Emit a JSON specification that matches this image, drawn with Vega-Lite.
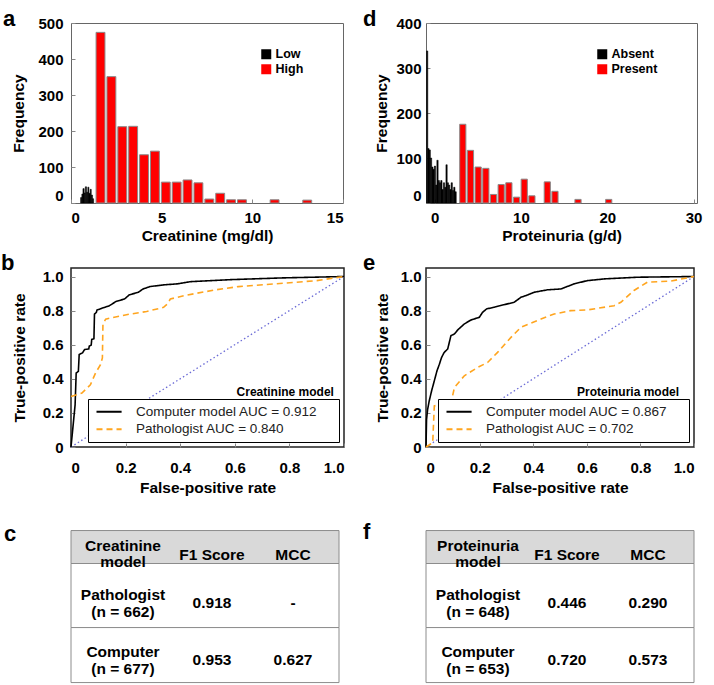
{
  "$schema": "https://vega.github.io/schema/vega-lite/v6.json",
  "background": "white",
  "padding": {"left": 0, "top": 7, "right": 0, "bottom": 0},
  "config": {
    "font": "Liberation Sans",
    "axis": {"labelFont": "Liberation Sans", "labelFontWeight": "bold", "labelFontSize": 15, "labelColor": "#000", "titleFont": "Liberation Sans", "titleFontWeight": "bold", "titleFontSize": 15.5, "titleColor": "#000", "domain": false, "grid": false, "tickSize": -4, "tickColor": "#888", "labelPadding": 11, "labelOverlap": false},
    "title": {"font": "Liberation Sans", "fontWeight": "bold", "fontSize": 22, "anchor": "start", "frame": "group", "baseline": "alphabetic", "color": "#000"},
    "text": {"font": "Liberation Sans", "fontWeight": "bold", "fontSize": 15.5, "color": "#000"}
  },
  "columns": 2,
  "bounds": "flush",
  "spacing": {"row": 65, "column": 82},
  "resolve": {"scale": {"x": "independent", "y": "independent", "color": "independent", "strokeDash": "independent"}, "legend": {"color": "independent", "strokeDash": "independent"}},
  "concat": [
    {
      "width": 272, "height": 180,
      "view": {"stroke": "#666"},
      "title": {"text": "a", "dx": -68, "offset": -14.5},
      "data": {"values": [
        {"lo": 0.5, "hi": 0.57, "n": 15, "cls": "Low"},
        {"lo": 0.57, "hi": 0.63, "n": 25, "cls": "Low"},
        {"lo": 0.63, "hi": 0.7, "n": 40, "cls": "Low"},
        {"lo": 0.7, "hi": 0.76, "n": 28, "cls": "Low"},
        {"lo": 0.76, "hi": 0.83, "n": 45, "cls": "Low"},
        {"lo": 0.83, "hi": 0.9, "n": 30, "cls": "Low"},
        {"lo": 0.9, "hi": 0.96, "n": 44, "cls": "Low"},
        {"lo": 0.96, "hi": 1.03, "n": 27, "cls": "Low"},
        {"lo": 1.03, "hi": 1.09, "n": 38, "cls": "Low"},
        {"lo": 1.09, "hi": 1.16, "n": 22, "cls": "Low"},
        {"lo": 1.16, "hi": 1.22, "n": 12, "cls": "Low"},
        {"lo": 1.3, "hi": 1.9, "n": 474, "cls": "High"},
        {"lo": 1.9, "hi": 2.5, "n": 351, "cls": "High"},
        {"lo": 2.5, "hi": 3.1, "n": 212, "cls": "High"},
        {"lo": 3.1, "hi": 3.7, "n": 213, "cls": "High"},
        {"lo": 3.7, "hi": 4.3, "n": 134, "cls": "High"},
        {"lo": 4.3, "hi": 4.9, "n": 144, "cls": "High"},
        {"lo": 4.9, "hi": 5.5, "n": 58, "cls": "High"},
        {"lo": 5.5, "hi": 6.1, "n": 58, "cls": "High"},
        {"lo": 6.1, "hi": 6.7, "n": 64, "cls": "High"},
        {"lo": 6.7, "hi": 7.3, "n": 56, "cls": "High"},
        {"lo": 7.3, "hi": 7.9, "n": 11, "cls": "High"},
        {"lo": 7.9, "hi": 8.5, "n": 27, "cls": "High"},
        {"lo": 8.5, "hi": 9.1, "n": 9, "cls": "High"},
        {"lo": 9.1, "hi": 9.7, "n": 9, "cls": "High"},
        {"lo": 10.9, "hi": 11.5, "n": 9, "cls": "High"},
        {"lo": 12.7, "hi": 13.3, "n": 8, "cls": "High"}
      ]},
      "encoding": {
        "x": {"field": "lo", "type": "quantitative", "bin": "binned", "scale": {"domain": [0, 15], "nice": false, "zero": false},
              "axis": {"values": [0, 5, 10, 15], "labelFlush": true, "labelOverlap": false, "title": "Creatinine (mg/dl)", "labelPadding": 11, "titlePadding": 3.5}},
        "x2": {"field": "hi"},
        "y": {"field": "n", "type": "quantitative", "scale": {"domain": [0, 500], "nice": false},
              "axis": {"values": [0, 100, 200, 300, 400, 500], "labelOverlap": false, "title": "Frequency", "labelPadding": 12, "titlePadding": 11,
                       "labelBaseline": {"condition": {"test": "datum.value === 0", "value": "bottom"}, "value": "middle"}}},
        "color": {"field": "cls", "type": "nominal", "scale": {"domain": ["Low", "High"], "range": ["#000000", "#ff0000"]},
                  "legend": {"title": null, "orient": "top-right", "offset": 25, "padding": 0, "symbolType": "square", "symbolSize": 100, "symbolStrokeWidth": 0, "labelFont": "Liberation Sans", "labelFontWeight": "bold", "labelFontSize": 12.5, "labelColor": "#000", "rowPadding": 2, "labelOffset": 3, "labelExpr": "datum.label + '\u00a0\u00a0\u00a0\u00a0\u200b'"}}
      },
      "layer": [
        {"transform": [{"filter": "datum.cls === 'Low'"}], "mark": {"type": "bar", "binSpacing": 0, "stroke": "#000", "strokeWidth": 0.5}},
        {"transform": [{"filter": "datum.cls === 'High'"}], "mark": {"type": "bar", "binSpacing": 2, "stroke": "#8a8a8a", "strokeWidth": 1}}
      ]
    },
    {
      "width": 271, "height": 180,
      "view": {"stroke": "#666"},
      "title": {"text": "d", "dx": -63, "offset": -14.5},
      "data": {"values": [
        {"lo": -1.0, "hi": -0.85, "n": 338, "cls": "Absent"},
        {"lo": -0.85, "hi": -0.7, "n": 121, "cls": "Absent"},
        {"lo": -0.7, "hi": -0.55, "n": 118, "cls": "Absent"},
        {"lo": -0.55, "hi": -0.4, "n": 100, "cls": "Absent"},
        {"lo": -0.4, "hi": -0.25, "n": 80, "cls": "Absent"},
        {"lo": -0.25, "hi": -0.1, "n": 75, "cls": "Absent"},
        {"lo": -0.1, "hi": 0.05, "n": 82, "cls": "Absent"},
        {"lo": 0.05, "hi": 0.2, "n": 40, "cls": "Absent"},
        {"lo": 0.2, "hi": 0.35, "n": 95, "cls": "Absent"},
        {"lo": 0.35, "hi": 0.5, "n": 50, "cls": "Absent"},
        {"lo": 0.5, "hi": 0.65, "n": 45, "cls": "Absent"},
        {"lo": 0.65, "hi": 0.8, "n": 50, "cls": "Absent"},
        {"lo": 0.8, "hi": 0.95, "n": 30, "cls": "Absent"},
        {"lo": 0.95, "hi": 1.1, "n": 45, "cls": "Absent"},
        {"lo": 1.1, "hi": 1.25, "n": 35, "cls": "Absent"},
        {"lo": 1.25, "hi": 1.4, "n": 85, "cls": "Absent"},
        {"lo": 1.4, "hi": 1.55, "n": 45, "cls": "Absent"},
        {"lo": 1.55, "hi": 1.7, "n": 40, "cls": "Absent"},
        {"lo": 1.7, "hi": 1.85, "n": 30, "cls": "Absent"},
        {"lo": 1.85, "hi": 2.0, "n": 45, "cls": "Absent"},
        {"lo": 2.0, "hi": 2.15, "n": 28, "cls": "Absent"},
        {"lo": 2.15, "hi": 2.3, "n": 35, "cls": "Absent"},
        {"lo": 2.3, "hi": 2.45, "n": 25, "cls": "Absent"},
        {"lo": 2.76, "hi": 3.65, "n": 175, "cls": "Present"},
        {"lo": 3.65, "hi": 4.54, "n": 117, "cls": "Present"},
        {"lo": 4.54, "hi": 5.43, "n": 80, "cls": "Present"},
        {"lo": 5.43, "hi": 6.32, "n": 77, "cls": "Present"},
        {"lo": 6.32, "hi": 7.21, "n": 19, "cls": "Present"},
        {"lo": 7.21, "hi": 8.1, "n": 41, "cls": "Present"},
        {"lo": 8.1, "hi": 8.99, "n": 45, "cls": "Present"},
        {"lo": 8.99, "hi": 9.88, "n": 13, "cls": "Present"},
        {"lo": 9.88, "hi": 10.77, "n": 53, "cls": "Present"},
        {"lo": 10.77, "hi": 11.66, "n": 16, "cls": "Present"},
        {"lo": 12.55, "hi": 13.44, "n": 47, "cls": "Present"},
        {"lo": 13.44, "hi": 14.33, "n": 26, "cls": "Present"},
        {"lo": 16.11, "hi": 17.0, "n": 8, "cls": "Present"},
        {"lo": 19.67, "hi": 20.56, "n": 8, "cls": "Present"}
      ]},
      "encoding": {
        "x": {"field": "lo", "type": "quantitative", "bin": "binned", "scale": {"domain": [-1, 30.4], "nice": false, "zero": false},
              "axis": {"values": [0, 10, 20, 30], "labelOverlap": false, "title": "Proteinuria (g/d)", "labelPadding": 11, "titlePadding": 3.5}},
        "x2": {"field": "hi"},
        "y": {"field": "n", "type": "quantitative", "scale": {"domain": [0, 400], "nice": false},
              "axis": {"values": [0, 100, 200, 300, 400], "labelOverlap": false, "title": "Frequency", "labelPadding": 9, "titlePadding": 6,
                       "labelBaseline": {"condition": {"test": "datum.value === 0", "value": "bottom"}, "value": "middle"}}},
        "color": {"field": "cls", "type": "nominal", "scale": {"domain": ["Absent", "Present"], "range": ["#000000", "#ff0000"]},
                  "legend": {"title": null, "orient": "top-right", "offset": 25, "padding": 0, "symbolType": "square", "symbolSize": 100, "symbolStrokeWidth": 0, "labelFont": "Liberation Sans", "labelFontWeight": "bold", "labelFontSize": 12.5, "labelColor": "#000", "rowPadding": 2, "labelOffset": 3, "labelExpr": "datum.label + '\u00a0\u00a0\u00a0\u00a0\u200b'"}}
      },
      "layer": [
        {"transform": [{"filter": "datum.cls === 'Absent'"}], "mark": {"type": "bar", "binSpacing": 0, "stroke": "#000", "strokeWidth": 0.5}},
        {"transform": [{"filter": "datum.cls === 'Present'"}], "mark": {"type": "bar", "binSpacing": 1.5, "stroke": "#8a8a8a", "strokeWidth": 1}}
      ]
    },
    {
      "width": 273, "height": 179,
      "view": {"stroke": "#222", "strokeWidth": 1.5},
      "title": {"text": "b", "dx": -70, "offset": -7},
      "encoding": {
        "x": {"field": "fpr", "type": "quantitative", "scale": {"domain": [0, 1], "nice": false},
              "axis": {"values": [0, 0.2, 0.4, 0.6, 0.8, 1], "labelOverlap": false, "labelExpr": "datum.value === 0 ? '0' : format(datum.value, '.1f')", "title": "False-positive rate", "labelPadding": 17, "titlePadding": 5.5}},
        "y": {"field": "tpr", "type": "quantitative", "scale": {"domain": [0, 1.05], "nice": false},
              "axis": {"values": [0, 0.2, 0.4, 0.6, 0.8, 1], "labelOverlap": false, "labelExpr": "datum.value === 0 ? '0' : format(datum.value, '.1f')", "title": "True-positive rate", "labelPadding": 12, "titlePadding": 14.5}}
      },
      "layer": [
        {
          "data": {"values": [{"fpr": 0, "tpr": 0}, {"fpr": 1, "tpr": 1}]},
          "mark": {"type": "line", "color": "#6b6bd6", "strokeDash": [1.5, 2.5], "strokeWidth": 1.3}
        },
        {
          "data": {"values": [
            {"fpr": 0, "tpr": 0, "s": "Computer model AUC = 0.912"},
            {"fpr": 0.015, "tpr": 0.246, "s": "Computer model AUC = 0.912"},
            {"fpr": 0.019, "tpr": 0.434, "s": "Computer model AUC = 0.912"},
            {"fpr": 0.027, "tpr": 0.444, "s": "Computer model AUC = 0.912"},
            {"fpr": 0.03, "tpr": 0.543, "s": "Computer model AUC = 0.912"},
            {"fpr": 0.042, "tpr": 0.552, "s": "Computer model AUC = 0.912"},
            {"fpr": 0.05, "tpr": 0.572, "s": "Computer model AUC = 0.912"},
            {"fpr": 0.065, "tpr": 0.575, "s": "Computer model AUC = 0.912"},
            {"fpr": 0.067, "tpr": 0.592, "s": "Computer model AUC = 0.912"},
            {"fpr": 0.074, "tpr": 0.598, "s": "Computer model AUC = 0.912"},
            {"fpr": 0.076, "tpr": 0.631, "s": "Computer model AUC = 0.912"},
            {"fpr": 0.084, "tpr": 0.635, "s": "Computer model AUC = 0.912"},
            {"fpr": 0.086, "tpr": 0.779, "s": "Computer model AUC = 0.912"},
            {"fpr": 0.093, "tpr": 0.79, "s": "Computer model AUC = 0.912"},
            {"fpr": 0.095, "tpr": 0.803, "s": "Computer model AUC = 0.912"},
            {"fpr": 0.115, "tpr": 0.815, "s": "Computer model AUC = 0.912"},
            {"fpr": 0.14, "tpr": 0.828, "s": "Computer model AUC = 0.912"},
            {"fpr": 0.165, "tpr": 0.854, "s": "Computer model AUC = 0.912"},
            {"fpr": 0.196, "tpr": 0.868, "s": "Computer model AUC = 0.912"},
            {"fpr": 0.214, "tpr": 0.893, "s": "Computer model AUC = 0.912"},
            {"fpr": 0.246, "tpr": 0.907, "s": "Computer model AUC = 0.912"},
            {"fpr": 0.264, "tpr": 0.927, "s": "Computer model AUC = 0.912"},
            {"fpr": 0.289, "tpr": 0.941, "s": "Computer model AUC = 0.912"},
            {"fpr": 0.339, "tpr": 0.951, "s": "Computer model AUC = 0.912"},
            {"fpr": 0.389, "tpr": 0.957, "s": "Computer model AUC = 0.912"},
            {"fpr": 0.439, "tpr": 0.97, "s": "Computer model AUC = 0.912"},
            {"fpr": 0.589, "tpr": 0.982, "s": "Computer model AUC = 0.912"},
            {"fpr": 0.776, "tpr": 0.992, "s": "Computer model AUC = 0.912"},
            {"fpr": 1, "tpr": 1, "s": "Computer model AUC = 0.912"},
            {"fpr": 0, "tpr": 0.296, "s": "Pathologist AUC = 0.840"},
            {"fpr": 0.04, "tpr": 0.316, "s": "Pathologist AUC = 0.840"},
            {"fpr": 0.071, "tpr": 0.365, "s": "Pathologist AUC = 0.840"},
            {"fpr": 0.09, "tpr": 0.434, "s": "Pathologist AUC = 0.840"},
            {"fpr": 0.108, "tpr": 0.483, "s": "Pathologist AUC = 0.840"},
            {"fpr": 0.115, "tpr": 0.523, "s": "Pathologist AUC = 0.840"},
            {"fpr": 0.117, "tpr": 0.72, "s": "Pathologist AUC = 0.840"},
            {"fpr": 0.127, "tpr": 0.75, "s": "Pathologist AUC = 0.840"},
            {"fpr": 0.152, "tpr": 0.759, "s": "Pathologist AUC = 0.840"},
            {"fpr": 0.214, "tpr": 0.779, "s": "Pathologist AUC = 0.840"},
            {"fpr": 0.277, "tpr": 0.795, "s": "Pathologist AUC = 0.840"},
            {"fpr": 0.339, "tpr": 0.819, "s": "Pathologist AUC = 0.840"},
            {"fpr": 0.352, "tpr": 0.838, "s": "Pathologist AUC = 0.840"},
            {"fpr": 0.364, "tpr": 0.868, "s": "Pathologist AUC = 0.840"},
            {"fpr": 0.414, "tpr": 0.888, "s": "Pathologist AUC = 0.840"},
            {"fpr": 0.526, "tpr": 0.921, "s": "Pathologist AUC = 0.840"},
            {"fpr": 0.613, "tpr": 0.941, "s": "Pathologist AUC = 0.840"},
            {"fpr": 0.75, "tpr": 0.957, "s": "Pathologist AUC = 0.840"},
            {"fpr": 0.9, "tpr": 0.976, "s": "Pathologist AUC = 0.840"},
            {"fpr": 1, "tpr": 1, "s": "Pathologist AUC = 0.840"}
          ]},
          "mark": {"type": "line", "strokeWidth": 1.6},
          "encoding": {
            "color": {"field": "s", "type": "nominal", "scale": {"domain": ["Computer model AUC = 0.912", "Pathologist AUC = 0.840"], "range": ["#000000", "#ffa51f"]},
                      "legend": {"title": null, "orient": "bottom-right", "offset": 5, "padding": 6, "strokeColor": "#000", "fillColor": "#fff", "labelFont": "Liberation Sans", "labelFontSize": 13.5, "labelFontWeight": "normal", "labelColor": "#222", "symbolType": "M-3,0H3", "symbolSize": 70, "symbolStrokeWidth": 2, "symbolOffset": 8.3, "labelOffset": 20.3, "rowPadding": 2.5, "labelLimit": 320, "labelExpr": "datum.label + '\u00a0\u00a0\u00a0\u00a0\u200b'"}},
            "strokeDash": {"field": "s", "type": "nominal", "scale": {"domain": ["Computer model AUC = 0.912", "Pathologist AUC = 0.840"], "range": [[1, 0], [6, 4]]},
                      "legend": {"title": null, "orient": "bottom-right", "offset": 5, "padding": 6, "strokeColor": "#000", "fillColor": "#fff", "labelFont": "Liberation Sans", "labelFontSize": 13.5, "labelFontWeight": "normal", "labelColor": "#222", "symbolType": "M-3,0H3", "symbolSize": 70, "symbolStrokeWidth": 2, "symbolOffset": 8.3, "labelOffset": 20.3, "rowPadding": 2.5, "labelLimit": 320, "labelExpr": "datum.label + '\u00a0\u00a0\u00a0\u00a0\u200b'"}}
          }
        },
        {
          "data": {"values": [{"fpr": 0.963, "tpr": 0.323, "t": "Creatinine model"}]},
          "mark": {"type": "text", "align": "right", "baseline": "middle", "font": "Liberation Sans", "fontWeight": "bold", "fontSize": 12},
          "encoding": {"text": {"field": "t"}}
        }
      ]
    },
    {
      "width": 268, "height": 179,
      "view": {"stroke": "#222", "strokeWidth": 1.5},
      "title": {"text": "e", "dx": -63, "offset": -7},
      "encoding": {
        "x": {"field": "fpr", "type": "quantitative", "scale": {"domain": [0, 1], "nice": false},
              "axis": {"values": [0, 0.2, 0.4, 0.6, 0.8, 1], "labelOverlap": false, "labelExpr": "datum.value === 0 ? '0' : format(datum.value, '.1f')", "title": "False-positive rate", "labelPadding": 17, "titlePadding": 5.5}},
        "y": {"field": "tpr", "type": "quantitative", "scale": {"domain": [0, 1.05], "nice": false},
              "axis": {"values": [0, 0.2, 0.4, 0.6, 0.8, 1], "labelOverlap": false, "labelExpr": "datum.value === 0 ? '0' : format(datum.value, '.1f')", "title": "True-positive rate", "labelPadding": 9, "titlePadding": 10}}
      },
      "layer": [
        {
          "data": {"values": [{"fpr": 0, "tpr": 0}, {"fpr": 1, "tpr": 1}]},
          "mark": {"type": "line", "color": "#6b6bd6", "strokeDash": [1.5, 2.5], "strokeWidth": 1.3}
        },
        {
          "data": {"values": [
            {"fpr": 0, "tpr": 0, "s": "Computer model AUC = 0.867"},
            {"fpr": 0.002, "tpr": 0.16, "s": "Computer model AUC = 0.867"},
            {"fpr": 0.006, "tpr": 0.22, "s": "Computer model AUC = 0.867"},
            {"fpr": 0.012, "tpr": 0.27, "s": "Computer model AUC = 0.867"},
            {"fpr": 0.021, "tpr": 0.33, "s": "Computer model AUC = 0.867"},
            {"fpr": 0.031, "tpr": 0.388, "s": "Computer model AUC = 0.867"},
            {"fpr": 0.041, "tpr": 0.447, "s": "Computer model AUC = 0.867"},
            {"fpr": 0.05, "tpr": 0.486, "s": "Computer model AUC = 0.867"},
            {"fpr": 0.058, "tpr": 0.525, "s": "Computer model AUC = 0.867"},
            {"fpr": 0.068, "tpr": 0.555, "s": "Computer model AUC = 0.867"},
            {"fpr": 0.081, "tpr": 0.575, "s": "Computer model AUC = 0.867"},
            {"fpr": 0.093, "tpr": 0.653, "s": "Computer model AUC = 0.867"},
            {"fpr": 0.106, "tpr": 0.663, "s": "Computer model AUC = 0.867"},
            {"fpr": 0.118, "tpr": 0.686, "s": "Computer model AUC = 0.867"},
            {"fpr": 0.143, "tpr": 0.722, "s": "Computer model AUC = 0.867"},
            {"fpr": 0.168, "tpr": 0.745, "s": "Computer model AUC = 0.867"},
            {"fpr": 0.199, "tpr": 0.761, "s": "Computer model AUC = 0.867"},
            {"fpr": 0.211, "tpr": 0.79, "s": "Computer model AUC = 0.867"},
            {"fpr": 0.226, "tpr": 0.81, "s": "Computer model AUC = 0.867"},
            {"fpr": 0.255, "tpr": 0.82, "s": "Computer model AUC = 0.867"},
            {"fpr": 0.292, "tpr": 0.835, "s": "Computer model AUC = 0.867"},
            {"fpr": 0.329, "tpr": 0.849, "s": "Computer model AUC = 0.867"},
            {"fpr": 0.354, "tpr": 0.878, "s": "Computer model AUC = 0.867"},
            {"fpr": 0.379, "tpr": 0.892, "s": "Computer model AUC = 0.867"},
            {"fpr": 0.404, "tpr": 0.908, "s": "Computer model AUC = 0.867"},
            {"fpr": 0.453, "tpr": 0.922, "s": "Computer model AUC = 0.867"},
            {"fpr": 0.503, "tpr": 0.927, "s": "Computer model AUC = 0.867"},
            {"fpr": 0.553, "tpr": 0.957, "s": "Computer model AUC = 0.867"},
            {"fpr": 0.602, "tpr": 0.976, "s": "Computer model AUC = 0.867"},
            {"fpr": 0.665, "tpr": 0.986, "s": "Computer model AUC = 0.867"},
            {"fpr": 0.789, "tpr": 0.996, "s": "Computer model AUC = 0.867"},
            {"fpr": 1, "tpr": 1, "s": "Computer model AUC = 0.867"},
            {"fpr": 0, "tpr": 0, "s": "Pathologist AUC = 0.702"},
            {"fpr": 0.025, "tpr": 0.025, "s": "Pathologist AUC = 0.702"},
            {"fpr": 0.031, "tpr": 0.241, "s": "Pathologist AUC = 0.702"},
            {"fpr": 0.056, "tpr": 0.251, "s": "Pathologist AUC = 0.702"},
            {"fpr": 0.093, "tpr": 0.255, "s": "Pathologist AUC = 0.702"},
            {"fpr": 0.106, "tpr": 0.349, "s": "Pathologist AUC = 0.702"},
            {"fpr": 0.143, "tpr": 0.418, "s": "Pathologist AUC = 0.702"},
            {"fpr": 0.193, "tpr": 0.467, "s": "Pathologist AUC = 0.702"},
            {"fpr": 0.23, "tpr": 0.496, "s": "Pathologist AUC = 0.702"},
            {"fpr": 0.267, "tpr": 0.555, "s": "Pathologist AUC = 0.702"},
            {"fpr": 0.317, "tpr": 0.643, "s": "Pathologist AUC = 0.702"},
            {"fpr": 0.354, "tpr": 0.702, "s": "Pathologist AUC = 0.702"},
            {"fpr": 0.429, "tpr": 0.751, "s": "Pathologist AUC = 0.702"},
            {"fpr": 0.478, "tpr": 0.78, "s": "Pathologist AUC = 0.702"},
            {"fpr": 0.54, "tpr": 0.8, "s": "Pathologist AUC = 0.702"},
            {"fpr": 0.602, "tpr": 0.804, "s": "Pathologist AUC = 0.702"},
            {"fpr": 0.702, "tpr": 0.829, "s": "Pathologist AUC = 0.702"},
            {"fpr": 0.727, "tpr": 0.849, "s": "Pathologist AUC = 0.702"},
            {"fpr": 0.776, "tpr": 0.918, "s": "Pathologist AUC = 0.702"},
            {"fpr": 0.826, "tpr": 0.967, "s": "Pathologist AUC = 0.702"},
            {"fpr": 0.913, "tpr": 0.973, "s": "Pathologist AUC = 0.702"},
            {"fpr": 1, "tpr": 1, "s": "Pathologist AUC = 0.702"}
          ]},
          "mark": {"type": "line", "strokeWidth": 1.6},
          "encoding": {
            "color": {"field": "s", "type": "nominal", "scale": {"domain": ["Computer model AUC = 0.867", "Pathologist AUC = 0.702"], "range": ["#000000", "#ffa51f"]},
                      "legend": {"title": null, "orient": "bottom-right", "offset": 5, "padding": 6, "strokeColor": "#000", "fillColor": "#fff", "labelFont": "Liberation Sans", "labelFontSize": 13.5, "labelFontWeight": "normal", "labelColor": "#222", "symbolType": "M-3,0H3", "symbolSize": 70, "symbolStrokeWidth": 2, "symbolOffset": 8.3, "labelOffset": 20.3, "rowPadding": 2.5, "labelLimit": 320, "labelExpr": "datum.label + '\u00a0\u00a0\u00a0\u00a0\u200b'"}},
            "strokeDash": {"field": "s", "type": "nominal", "scale": {"domain": ["Computer model AUC = 0.867", "Pathologist AUC = 0.702"], "range": [[1, 0], [6, 4]]},
                      "legend": {"title": null, "orient": "bottom-right", "offset": 5, "padding": 6, "strokeColor": "#000", "fillColor": "#fff", "labelFont": "Liberation Sans", "labelFontSize": 13.5, "labelFontWeight": "normal", "labelColor": "#222", "symbolType": "M-3,0H3", "symbolSize": 70, "symbolStrokeWidth": 2, "symbolOffset": 8.3, "labelOffset": 20.3, "rowPadding": 2.5, "labelLimit": 320, "labelExpr": "datum.label + '\u00a0\u00a0\u00a0\u00a0\u200b'"}}
          }
        },
        {
          "data": {"values": [{"fpr": 0.944, "tpr": 0.323, "t": "Proteinuria model"}]},
          "mark": {"type": "text", "align": "right", "baseline": "middle", "font": "Liberation Sans", "fontWeight": "bold", "fontSize": 12},
          "encoding": {"text": {"field": "t"}}
        }
      ]
    },
    {
      "width": 268, "height": 171,
      "view": {"stroke": null},
      "title": {"text": "c", "dx": -67, "offset": -34},
      "data": {"values": [
        {"row": "h", "col": "m", "t": "Creatinine\nmodel"},
        {"row": "h", "col": "f1", "t": "F1 Score"},
        {"row": "h", "col": "mcc", "t": "MCC"},
        {"row": "r1", "col": "m", "t": "Pathologist\n(n = 662)"},
        {"row": "r1", "col": "f1", "t": "0.918"},
        {"row": "r1", "col": "mcc", "t": "-"},
        {"row": "r2", "col": "m", "t": "Computer\n(n = 677)"},
        {"row": "r2", "col": "f1", "t": "0.953"},
        {"row": "r2", "col": "mcc", "t": "0.627"}
      ]},
      "encoding": {
        "y": {"field": "row", "type": "nominal", "scale": {"type": "band", "domain": ["h", "r1", "r2"], "paddingInner": 0, "paddingOuter": 0.1875, "align": 1}, "axis": null},
        "x": {"field": "col", "type": "nominal", "scale": {"type": "point", "domain": ["m", "f1", "mcc"], "padding": 0.654, "align": 0.566}, "axis": null},
        "text": {"field": "t"}
      },
      "layer": [
        {"transform": [{"filter": "datum.row === 'h' && datum.col === 'm'"}], "mark": {"type": "bar", "stroke": "#8c8c8c", "strokeWidth": 1, "fill": "#d9d9d9", "height": 33, "yOffset": -9.3},
         "encoding": {"x": {"value": 0}, "x2": {"value": "width"}, "text": null}},
        {"transform": [{"filter": "datum.row === 'r1' && datum.col === 'm'"}], "mark": {"type": "bar", "stroke": "#8c8c8c", "strokeWidth": 1, "fill": "#ffffff", "height": 64, "yOffset": -11.5},
         "encoding": {"x": {"value": 0}, "x2": {"value": "width"}, "text": null}},
        {"transform": [{"filter": "datum.row === 'r2' && datum.col === 'm'"}], "mark": {"type": "bar", "stroke": "#8c8c8c", "strokeWidth": 1, "fill": "#ffffff", "height": 55, "yOffset": -2.6},
         "encoding": {"x": {"value": 0}, "x2": {"value": "width"}, "text": null}},
        {"transform": [{"filter": "datum.row === 'h' && datum.col === 'm'"}], "mark": {"type": "text", "lineBreak": "\n", "lineHeight": 16, "dy": -10.8, "dx": -8}},
        {"transform": [{"filter": "datum.row === 'h' && datum.col !== 'm'"}], "mark": {"type": "text", "dy": -1.8}},
        {"transform": [{"filter": "datum.row === 'r1' && datum.col === 'm'"}], "mark": {"type": "text", "lineBreak": "\n", "lineHeight": 17, "dy": -12.5, "dx": -8}},
        {"transform": [{"filter": "datum.row === 'r1' && datum.col !== 'm'"}], "mark": {"type": "text", "dy": -4.5}},
        {"transform": [{"filter": "datum.row === 'r2' && datum.col === 'm'"}], "mark": {"type": "text", "lineBreak": "\n", "lineHeight": 17, "dy": -6, "dx": -8}},
        {"transform": [{"filter": "datum.row === 'r2' && datum.col !== 'm'"}], "mark": {"type": "text", "dy": 2}}
      ]
    },
    {
      "width": 268, "height": 171,
      "view": {"stroke": null},
      "title": {"text": "f", "dx": -63, "offset": -32},
      "data": {"values": [
        {"row": "h", "col": "m", "t": "Proteinuria\nmodel"},
        {"row": "h", "col": "f1", "t": "F1 Score"},
        {"row": "h", "col": "mcc", "t": "MCC"},
        {"row": "r1", "col": "m", "t": "Pathologist\n(n = 648)"},
        {"row": "r1", "col": "f1", "t": "0.446"},
        {"row": "r1", "col": "mcc", "t": "0.290"},
        {"row": "r2", "col": "m", "t": "Computer\n(n = 653)"},
        {"row": "r2", "col": "f1", "t": "0.720"},
        {"row": "r2", "col": "mcc", "t": "0.573"}
      ]},
      "encoding": {
        "y": {"field": "row", "type": "nominal", "scale": {"type": "band", "domain": ["h", "r1", "r2"], "paddingInner": 0, "paddingOuter": 0.1875, "align": 1}, "axis": null},
        "x": {"field": "col", "type": "nominal", "scale": {"type": "point", "domain": ["m", "f1", "mcc"], "padding": 0.654, "align": 0.566}, "axis": null},
        "text": {"field": "t"}
      },
      "layer": [
        {"transform": [{"filter": "datum.row === 'h' && datum.col === 'm'"}], "mark": {"type": "bar", "stroke": "#8c8c8c", "strokeWidth": 1, "fill": "#d9d9d9", "height": 33, "yOffset": -9.3},
         "encoding": {"x": {"value": 0}, "x2": {"value": "width"}, "text": null}},
        {"transform": [{"filter": "datum.row === 'r1' && datum.col === 'm'"}], "mark": {"type": "bar", "stroke": "#8c8c8c", "strokeWidth": 1, "fill": "#ffffff", "height": 64, "yOffset": -11.5},
         "encoding": {"x": {"value": 0}, "x2": {"value": "width"}, "text": null}},
        {"transform": [{"filter": "datum.row === 'r2' && datum.col === 'm'"}], "mark": {"type": "bar", "stroke": "#8c8c8c", "strokeWidth": 1, "fill": "#ffffff", "height": 55, "yOffset": -2.6},
         "encoding": {"x": {"value": 0}, "x2": {"value": "width"}, "text": null}},
        {"transform": [{"filter": "datum.row === 'h' && datum.col === 'm'"}], "mark": {"type": "text", "lineBreak": "\n", "lineHeight": 16, "dy": -10.8, "dx": -8}},
        {"transform": [{"filter": "datum.row === 'h' && datum.col !== 'm'"}], "mark": {"type": "text", "dy": -1.8}},
        {"transform": [{"filter": "datum.row === 'r1' && datum.col === 'm'"}], "mark": {"type": "text", "lineBreak": "\n", "lineHeight": 17, "dy": -12.5, "dx": -8}},
        {"transform": [{"filter": "datum.row === 'r1' && datum.col !== 'm'"}], "mark": {"type": "text", "dy": -4.5}},
        {"transform": [{"filter": "datum.row === 'r2' && datum.col === 'm'"}], "mark": {"type": "text", "lineBreak": "\n", "lineHeight": 17, "dy": -6, "dx": -8}},
        {"transform": [{"filter": "datum.row === 'r2' && datum.col !== 'm'"}], "mark": {"type": "text", "dy": 2}}
      ]
    }
  ]
}
